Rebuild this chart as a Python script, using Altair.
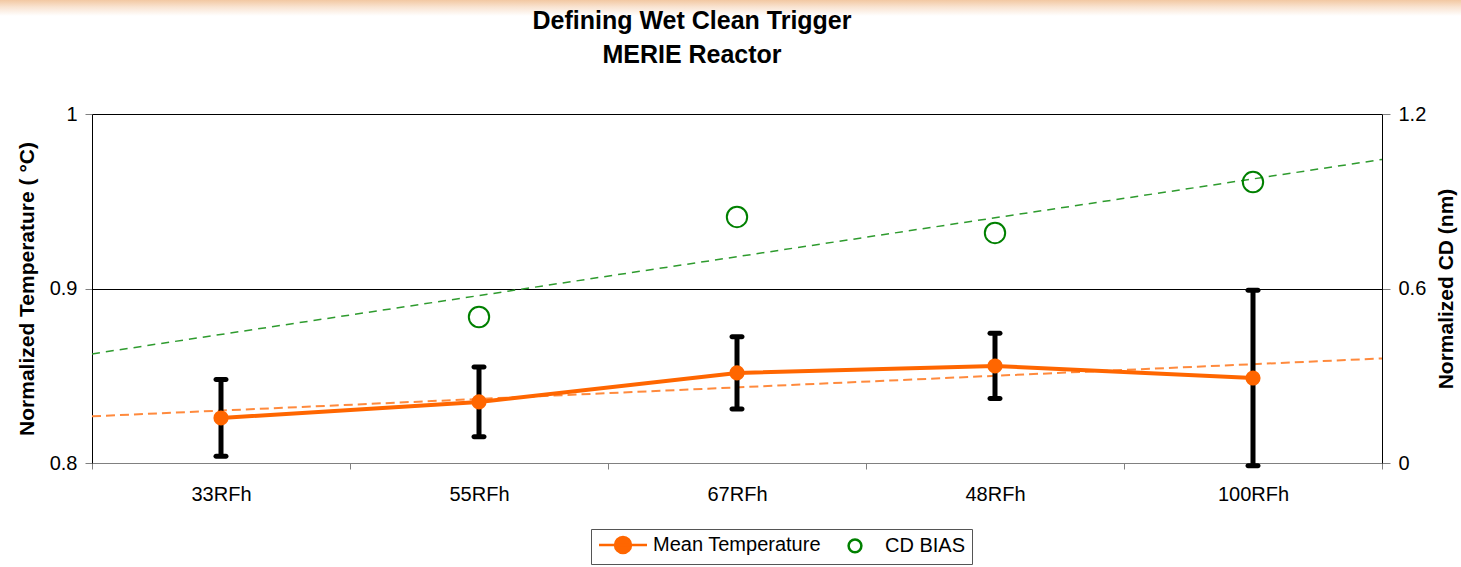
import altair as alt
import pandas as pd

FONT = "Liberation Sans"

# Chart values
categories = ["33RFh", "55RFh", "67RFh", "48RFh", "100RFh"]
positions = [1, 2, 3, 4, 5]
mean_temp = [0.8258, 0.8350, 0.8516, 0.8556, 0.8487]
temp_err = [0.0220, 0.0200, 0.0207, 0.0187, 0.0503]
cd_bias = [None, 0.502, 0.846, 0.791, 0.966]
series_names = ["Mean Temperature", "CD BIAS"]

ORANGE = "#FF6600"
GREEN = "#008000"

df = pd.DataFrame({
    "cat": categories,
    "idx": positions,
    "temp": mean_temp,
    "err": temp_err,
    "cd": cd_bias,
})

base = alt.Chart(df)

band_scale = alt.Scale(type="band", domain=categories, paddingInner=0, paddingOuter=0)
x_hidden = alt.X("cat:N", sort=categories, scale=band_scale, axis=None)
x_shown = alt.X(
    "cat:N", sort=categories, scale=band_scale,
    axis=alt.Axis(title=None, labelAngle=0, labelFont=FONT, labelFontSize=20,
                  labelColor="black", labelPadding=15, tickBand="extent",
                  tickSize=6, tickColor="#808080", domainColor="#808080",
                  domainWidth=1, grid=False),
)
x_num = alt.X("idx:Q", scale=alt.Scale(domain=[0.5, 5.5], nice=False, zero=False), axis=None)

temp_scale = alt.Scale(domain=[0.8, 1.0], nice=False, zero=False)
cd_scale = alt.Scale(domain=[0, 1.2], nice=False, zero=False)

# Slide header strip
strip = alt.Chart(alt.Data(values=[{"k": 1}])).mark_rect(
    clip=False,
    fill=alt.Gradient(
        gradient="linear",
        stops=[alt.GradientStop(offset=0, color="#f2c8a2"),
               alt.GradientStop(offset=0.45, color="#f9e4d2"),
               alt.GradientStop(offset=1, color="#ffffff")],
        x1=0, x2=0, y1=0, y2=1,
    ),
).encode(x=alt.value(-92), x2=alt.value(1369), y=alt.value(-114), y2=alt.value(-98))

# Linear trendlines
temp_trend = base.transform_regression(
    "idx", "temp", extent=[0.5, 5.5]
).mark_line(color="#FF8A3D", strokeWidth=2, strokeDash=[9, 5]).encode(
    x=x_num, y=alt.Y("temp:Q", scale=temp_scale, axis=None)
)

cd_trend = base.transform_filter("isValid(datum.cd)").transform_regression(
    "idx", "cd", extent=[0.5, 5.5]
).mark_line(color="#2E9B2E", strokeWidth=1.5, strokeDash=[8, 6]).encode(
    x=x_num, y=alt.Y("cd:Q", scale=cd_scale, axis=None)
)

# Error bars (stems carry the left axis)
err_base = base.transform_calculate(lo="datum.temp - datum.err", hi="datum.temp + datum.err")

stems = err_base.mark_rule(color="black", strokeWidth=5).encode(
    x=x_shown,
    y=alt.Y("lo:Q", scale=temp_scale,
            axis=alt.Axis(title="Normalized Temperature ( °C)", values=[0.8, 0.9, 1.0],
                          labelExpr="datum.value == 1 ? '1' : format(datum.value, '.1f')",
                          labelFont=FONT, labelFontSize=20, labelColor="black",
                          labelPadding=8, tickSize=7, tickColor="#808080",
                          domainColor="black", grid=True,
                          gridColor={"condition": {"test": "datum.value <= 0.8", "value": "#808080"},
                                     "value": "black"},
                          titleFont=FONT, titleFontSize=21, titleFontWeight="bold",
                          titleColor="black", titlePadding=12)),
    y2="hi:Q",
)

caps = err_base.transform_fold(["lo", "hi"], as_=["end", "yv"]).mark_tick(
    color="black", size=15, thickness=5, cornerRadius=2.5, opacity=1
).encode(x=x_hidden, y=alt.Y("yv:Q", scale=temp_scale, axis=None))

temp_line = base.mark_line(color=ORANGE, strokeWidth=4).encode(
    x=x_hidden, y=alt.Y("temp:Q", scale=temp_scale, axis=None)
)

temp_points = base.mark_circle(color=ORANGE, size=230, opacity=1).encode(
    x=x_hidden, y=alt.Y("temp:Q", scale=temp_scale, axis=None)
)

cd_points = base.transform_filter("isValid(datum.cd)").mark_point(
    shape="circle", filled=False, color=GREEN, strokeWidth=2, size=415, opacity=1
).encode(
    x=x_hidden,
    y=alt.Y("cd:Q", scale=cd_scale,
            axis=alt.Axis(orient="right", title="Normalized CD (nm)", values=[0, 0.6, 1.2],
                          labelExpr="datum.value == 0 ? '0' : format(datum.value, '.1f')",
                          labelFont=FONT, labelFontSize=20, labelColor="black",
                          labelPadding=8, tickSize=8, tickColor="#808080",
                          domainColor="black", grid=False,
                          titleFont=FONT, titleFontSize=21, titleFontWeight="bold",
                          titleColor="black", titleAngle=270, titleBaseline="top",
                          titlePadding=10)),
)

# Legend key symbols: a line with a dot, and an open circle
LINE_DOT = "M-1,0L5,0M1,0A1,1,0,1,0,3,0A1,1,0,1,0,1,0Z"
OPEN_DOT = "M1.2,0A0.8,0.8,0,1,0,2.8,0A0.8,0.8,0,1,0,1.2,0Z"

key = alt.Chart(pd.DataFrame({"series": series_names})).mark_point(opacity=0).encode(
    shape=alt.Shape("series:N", scale=alt.Scale(domain=series_names, range=[LINE_DOT, OPEN_DOT]),
                    legend=alt.Legend(title=None)),
    stroke=alt.Stroke("series:N", scale=alt.Scale(domain=series_names, range=[ORANGE, GREEN]),
                      legend=alt.Legend(title=None)),
    fill=alt.Fill("series:N", scale=alt.Scale(domain=series_names, range=[ORANGE, "transparent"]),
                  legend=alt.Legend(title=None)),
)

chart = alt.layer(
    strip, temp_trend, cd_trend, stems, caps, temp_line, temp_points, cd_points, key
).resolve_scale(
    x="independent", y="independent"
).properties(
    width=1290,
    height=349,
    autosize=alt.AutoSizeParams(type="none"),
    padding={"left": 92, "top": 114, "right": 79, "bottom": 104},
    background="white",
    title=alt.TitleParams(
        text=["Defining Wet Clean Trigger", "MERIE Reactor"],
        font=FONT, fontSize=25, fontWeight="bold", color="black",
        anchor="middle", dx=-45, offset=0, dy=68, lineHeight=34,
    ),
).configure_view(
    stroke=None
).configure_legend(
    orient="none", legendX=499, legendY=415, direction="horizontal",
    labelFont=FONT, labelFontSize=20, labelColor="black", labelLimit=400,
    symbolSize=256, symbolStrokeWidth=2.5, symbolOpacity=1,
    labelOffset=36, columnPadding=8, padding=6,
    strokeColor="#555555", fillColor="white",
)

chart.save("out.html", embed_options={"renderer": "svg", "actions": False})
